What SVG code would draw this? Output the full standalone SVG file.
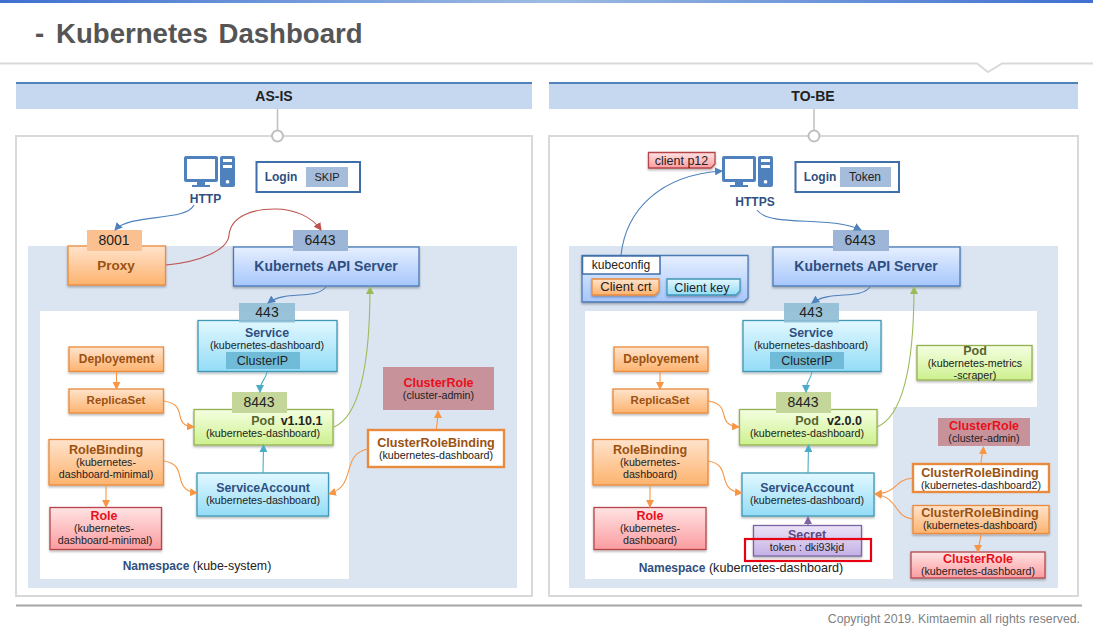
<svg xmlns="http://www.w3.org/2000/svg" width="1093" height="634" viewBox="0 0 1093 634">
<style>
text{font-family:"Liberation Sans",Arial,sans-serif;text-anchor:middle;font-size:10.7px;fill:#222}
.b{font-weight:700}
.navy{fill:#2f4f80;font-weight:700;font-size:12.4px}
.brown{fill:#9a5212;font-weight:700;font-size:12.6px}
.red{fill:#e8101c;font-weight:700;font-size:12.5px}
.olive{fill:#56652f;font-weight:700;font-size:12.5px}
.port{font-size:14px;fill:#222}
.title{font-size:27.6px;font-weight:700;fill:#555;text-anchor:start;word-spacing:3px}
.or{fill:url(#gO);stroke:#e98a3c;stroke-width:1.3;filter:url(#sh)}
.bl{fill:url(#gB);stroke:#4a7ab5;stroke-width:1.3;filter:url(#sh)}
.cy{fill:url(#gC);stroke:#3f97b5;stroke-width:1.3;filter:url(#sh)}
.gr{fill:url(#gG);stroke:#94b150;stroke-width:1.3;filter:url(#sh)}
.pk{fill:url(#gR);stroke:#b5454a;stroke-width:1.3;filter:url(#sh)}
.pu{fill:url(#gP);stroke:#7a64a2;stroke-width:1.3;filter:url(#sh)}
.wo{fill:#fff;stroke:#e98a3c;stroke-width:2.4}
.head{fill:#c6d8ef}
.topl{stroke:#4f81bd;stroke-width:2}
.frame{fill:#fff;stroke:#d9d9d9;stroke-width:2}
.zone{fill:#dbe4f1}
.conn{fill:none;stroke-width:1.1}
.cb{stroke:#4f81bd;marker-end:url(#aB)}
.cr{stroke:#c0504d;marker-end:url(#aR)}
.cg{stroke:#9bbb59;marker-end:url(#aG)}
.co{stroke:#f79646;marker-end:url(#aO)}
.cc{stroke:#4bacc6;marker-end:url(#aC)}
.cp{stroke:#8064a2;marker-end:url(#aP)}
.pin{stroke:#bfbfbf;stroke-width:1.5}
.pinc{fill:#fff;stroke:#bfbfbf;stroke-width:2}
.ic{fill:#4f81bd}
</style>
<defs>
<linearGradient id="top"><stop offset="0" stop-color="#3f70d0"/><stop offset=".5" stop-color="#9dbbe2"/><stop offset="1" stop-color="#3f70d0"/></linearGradient>
<linearGradient id="gO" x2="0" y2="1"><stop offset="0" stop-color="#ffe3cc"/><stop offset="1" stop-color="#fdb36e"/></linearGradient>
<linearGradient id="gB" x2="0" y2="1"><stop offset="0" stop-color="#e6efff"/><stop offset="1" stop-color="#a6c6fb"/></linearGradient>
<linearGradient id="gC" x2="0" y2="1"><stop offset="0" stop-color="#e2f8ff"/><stop offset="1" stop-color="#93dcf7"/></linearGradient>
<linearGradient id="gG" x2="0" y2="1"><stop offset="0" stop-color="#f5ffe2"/><stop offset="1" stop-color="#cdf08e"/></linearGradient>
<linearGradient id="gR" x2="0" y2="1"><stop offset="0" stop-color="#ffe3e3"/><stop offset="1" stop-color="#fb9ca0"/></linearGradient>
<linearGradient id="gP" x2="0" y2="1"><stop offset="0" stop-color="#ebe3f7"/><stop offset="1" stop-color="#c4b0e6"/></linearGradient>
<filter id="sh" x="-10%" y="-15%" width="120%" height="135%"><feDropShadow dx="0" dy="1.5" stdDeviation="1.2" flood-color="#000" flood-opacity=".3"/></filter>
<marker id="aB" markerUnits="userSpaceOnUse" markerWidth="9" markerHeight="8" refX="7" refY="4" orient="auto"><path d="M0 0L8 4L0 8z" fill="#4f81bd"/></marker>
<marker id="aR" markerUnits="userSpaceOnUse" markerWidth="9" markerHeight="8" refX="7" refY="4" orient="auto"><path d="M0 0L8 4L0 8z" fill="#c0504d"/></marker>
<marker id="aG" markerUnits="userSpaceOnUse" markerWidth="9" markerHeight="8" refX="7" refY="4" orient="auto"><path d="M0 0L8 4L0 8z" fill="#9bbb59"/></marker>
<marker id="aO" markerUnits="userSpaceOnUse" markerWidth="9" markerHeight="8" refX="7" refY="4" orient="auto"><path d="M0 0L8 4L0 8z" fill="#f79646"/></marker>
<marker id="aC" markerUnits="userSpaceOnUse" markerWidth="9" markerHeight="8" refX="7" refY="4" orient="auto"><path d="M0 0L8 4L0 8z" fill="#4bacc6"/></marker>
<marker id="aP" markerUnits="userSpaceOnUse" markerWidth="9" markerHeight="8" refX="7" refY="4" orient="auto"><path d="M0 0L8 4L0 8z" fill="#8064a2"/></marker>
<g id="pc">
<path class="ic" fill-rule="evenodd" d="M2 0H32A2 2 0 0 1 34 2V24A2 2 0 0 1 32 26H21V29H26V31H8V29H13V26H2A2 2 0 0 1 0 24V2A2 2 0 0 1 2 0ZM3 3V23H31V3Z"/>
<path class="ic" fill-rule="evenodd" d="M38 0H49A2 2 0 0 1 51 2V29A2 2 0 0 1 49 31H38A2 2 0 0 1 36 29V2A2 2 0 0 1 38 0ZM39 3V6H48V3ZM39 9V12H48V9ZM43.5 24A1.8 1.8 0 1 0 43.6 24Z"/>
</g>
</defs>

<rect width="1093" height="634" fill="#fff"/>
<rect width="1093" height="3" fill="url(#top)"/>
<text class="title" x="35" y="43">- <tspan x="56">Kubernetes Dashboard</tspan></text>
<path d="M0 63.5H977L988 72L1002 63.5H1093" fill="none" stroke="#d9d9d9" stroke-width="2"/>

<g id="as-is-panel">
<rect class="head" x="16" y="82" width="516" height="27"/>
<path class="topl" d="M16 83H532"/>
<text class="b" x="274" y="101" style="font-size:14px">AS-IS</text>
<rect class="frame" x="16" y="136" width="516" height="460"/>
<path class="pin" d="M277.5 109V131"/>
<circle class="pinc" cx="277.5" cy="136" r="5.5"/>
<rect class="zone" x="28" y="246" width="489" height="342"/>
<rect x="40" y="311" width="309" height="268" fill="#fff"/>
<text x="197" y="570" style="font-size:12.4px"><tspan class="navy" style="font-size:12px">Namespace</tspan> (kube-system)</text>
</g>

<g id="to-be-panel">
<rect class="head" x="549" y="82" width="529" height="27"/>
<path class="topl" d="M549 83H1078"/>
<text class="b" x="813" y="101" style="font-size:14px">TO-BE</text>
<rect class="frame" x="549" y="136" width="529" height="460"/>
<path class="pin" d="M814 109V131"/>
<circle class="pinc" cx="814" cy="136" r="5.5"/>
<rect class="zone" x="569" y="246" width="489" height="342"/>
<path d="M585 311H1037V407H893V579H585Z" fill="#fff"/>
<text x="741" y="572" style="font-size:12.6px"><tspan class="navy" style="font-size:12px">Namespace</tspan> (kubernetes-dashboard)</text>
</g>

<g id="l-pc"><use href="#pc" x="184" y="156"/><text x="205.500" y="203" style="font-size:12px;font-weight:700;fill:#2f4f80">HTTP</text></g>
<g id="l-login"><rect x="256.500" y="162" width="103.500" height="30" fill="#fff" stroke="#3f6fa8" stroke-width="2"/><rect x="306" y="167" width="42" height="20" fill="#a6bcdb"/><text class="navy" x="281" y="181" style="font-size:12px">Login</text><text x="327" y="181" style="font-size:11px">SKIP</text></g>
<g id="l-proxy"><rect class="or" x="68" y="246" width="97.500" height="39"/><rect x="87" y="230" width="55" height="21" fill="#fac090"/><text class="port" x="114" y="245">8001</text><text class="brown" x="116" y="270" style="font-size:13.5px">Proxy</text></g>
<g id="l-api"><rect class="bl" x="233.500" y="247" width="185.500" height="39"/><rect x="293" y="230" width="55" height="21" fill="#9db5d6"/><text class="port" x="320" y="245">6443</text><text class="navy" x="326" y="271" style="font-size:14px">Kubernets API Server</text></g>
<g id="l-service"><rect class="cy" x="198" y="320.500" width="139" height="51"/><rect x="239" y="303" width="56" height="19.500" fill="#8ebdd4" opacity=".9"/><text class="port" x="267" y="317">443</text><text class="navy" x="267" y="337">Service</text><text x="267" y="349">(kubernetes-dashboard)</text><rect x="226" y="352" width="74" height="17" fill="#70bcd8"/><text x="262.500" y="365" style="font-size:12.5px">ClusterIP</text></g>
<g id="l-deploy"><rect class="or" x="69" y="347" width="94.500" height="24.500"/><text class="brown" x="116.500" y="363" style="font-size:12px">Deployement</text></g>
<g id="l-rs"><rect class="or" x="69" y="389" width="94.500" height="24"/><text class="brown" x="116" y="404" style="font-size:11.500px">ReplicaSet</text></g>
<g id="l-pod"><rect class="gr" x="194" y="409.500" width="139" height="35.500"/><rect x="232" y="392" width="55" height="21" fill="#c5d69b"/><text class="port" x="259" y="407">8443</text><text class="olive" x="263" y="425">Pod</text><text class="b" x="301.500" y="425" style="font-size:12.5px">v1.10.1</text><text x="263" y="437">(kubernetes-dashboard)</text></g>
<g id="l-rb"><rect class="or" x="49" y="439.500" width="114.500" height="45.500"/><text class="brown" x="106" y="454">RoleBinding</text><text x="106" y="466">(kubernetes-</text><text x="106" y="478">dashboard-minimal)</text></g>
<g id="l-sa"><rect class="cy" x="197" y="473" width="131.500" height="43"/><text class="navy" x="263" y="492">ServiceAccount</text><text x="263" y="504">(kubernetes-dashboard)</text></g>
<g id="l-role"><rect class="pk" x="50" y="507.500" width="111.500" height="42"/><text class="red" x="104" y="520">Role</text><text x="104" y="532">(kubernetes-</text><text x="105" y="544">dashboard-minimal)</text></g>
<g id="l-cr"><rect x="383" y="367" width="111" height="43" fill="#c8929b"/><text class="red" x="438.500" y="387">ClusterRole</text><text x="438.500" y="399">(cluster-admin)</text></g>
<g id="l-crb"><rect class="wo" x="368" y="430" width="136" height="37"/><text class="brown" x="436" y="447">ClusterRoleBinding</text><text x="436" y="459">(kubernetes-dashboard)</text></g>

<g id="r-p12"><path class="pk" d="M648.500 152.500H715V164L711 168H648.500Z"/><text x="681.500" y="165" style="font-size:12.500px">client p12</text></g>
<g id="r-pc"><use href="#pc" x="722" y="156"/><text x="755" y="205.500" style="font-size:12px;font-weight:700;fill:#2f4f80">HTTPS</text></g>
<g id="r-login"><rect x="795.500" y="162" width="103.500" height="30" fill="#fff" stroke="#3f6fa8" stroke-width="2"/><rect x="840" y="167" width="51" height="20" fill="#a6bcdb"/><text class="navy" x="820" y="181" style="font-size:12px">Login</text><text x="865" y="181" style="font-size:12px">Token</text></g>
<g id="r-kubeconfig"><path class="bl" d="M582 255.500H748V298L744 302H582Z"/><rect x="582.500" y="256" width="77.500" height="18" fill="#fff" stroke="#3f6fa8" stroke-width="1.500"/><text x="621" y="269" style="font-size:12.100px">kubeconfig</text><path class="or" d="M592 279H659V291L655 295H592Z"/><text x="626" y="291" style="font-size:13px">Client crt</text><path class="cy" d="M667 279H740V291L736 295H667Z"/><text x="702" y="292" style="font-size:12.600px">Client key</text></g>
<g id="r-api"><rect class="bl" x="773" y="247" width="187" height="39"/><rect x="833" y="230" width="56" height="21" fill="#9db5d6"/><text class="port" x="860" y="245">6443</text><text class="navy" x="866" y="271" style="font-size:14px">Kubernets API Server</text></g>
<g id="r-service"><rect class="cy" x="743" y="320.500" width="138" height="51"/><rect x="784" y="303" width="55" height="19.500" fill="#8ebdd4" opacity=".9"/><text class="port" x="811" y="317">443</text><text class="navy" x="811" y="337">Service</text><text x="811" y="349">(kubernetes-dashboard)</text><rect x="770" y="352" width="74" height="17" fill="#70bcd8"/><text x="807" y="365" style="font-size:12.500px">ClusterIP</text></g>
<g id="r-deploy"><rect class="or" x="614" y="347" width="94" height="24.500"/><text class="brown" x="661" y="363" style="font-size:12px">Deployement</text></g>
<g id="r-rs"><rect class="or" x="613" y="389" width="95" height="24"/><text class="brown" x="660" y="404" style="font-size:11.500px">ReplicaSet</text></g>
<g id="r-pod"><rect class="gr" x="739.500" y="409.500" width="137.500" height="35.500"/><rect x="776" y="392" width="55" height="21" fill="#c5d69b"/><text class="port" x="803" y="407">8443</text><text class="olive" x="807" y="425">Pod</text><text class="b" x="844.500" y="425" style="font-size:12.5px">v2.0.0</text><text x="807" y="437">(kubernetes-dashboard)</text></g>
<g id="r-metrics"><rect class="gr" x="917" y="345.500" width="115" height="34.500"/><text class="olive" x="975" y="355">Pod</text><text x="975" y="367">(kubernetes-metrics</text><text x="975" y="379">-scraper)</text></g>
<g id="r-rb"><rect class="or" x="593" y="439.500" width="115" height="45.500"/><text class="brown" x="650" y="454">RoleBinding</text><text x="650" y="466">(kubernetes-</text><text x="650" y="478">dashboard)</text></g>
<g id="r-sa"><rect class="cy" x="742" y="473" width="132" height="43"/><text class="navy" x="807" y="492">ServiceAccount</text><text x="807" y="504">(kubernetes-dashboard)</text></g>
<g id="r-role"><rect class="pk" x="594" y="507.500" width="112" height="42"/><text class="red" x="650" y="520">Role</text><text x="650" y="532">(kubernetes-</text><text x="650" y="544">dashboard)</text></g>
<g id="r-secret"><rect class="pu" x="753.500" y="525.500" width="108" height="30.500"/><text x="807" y="539" style="font-size:12.500px;font-weight:700;fill:#5b4a85">Secret</text><text x="807" y="551">token : dki93kjd</text><rect x="745" y="539" width="126" height="22" fill="none" stroke="#e60012" stroke-width="2.200"/></g>
<g id="r-cr1"><rect x="938" y="418" width="92" height="28" fill="#c8929b"/><text class="red" x="984" y="430">ClusterRole</text><text x="984" y="442">(cluster-admin)</text></g>
<g id="r-crb2"><rect class="wo" x="913" y="464" width="136" height="28"/><text class="brown" x="980" y="477">ClusterRoleBinding</text><text x="981" y="489">(kubernetes-dashboard2)</text></g>
<g id="r-crb1"><rect class="or" x="913" y="505.500" width="136" height="28"/><text class="brown" x="980" y="517">ClusterRoleBinding</text><text x="980" y="529">(kubernetes-dashboard)</text></g>
<g id="r-cr2"><rect class="pk" x="911" y="552" width="134" height="26"/><text class="red" x="978" y="563">ClusterRole</text><text x="978" y="575">(kubernetes-dashboard)</text></g>

<g id="connectors" class="conn">
<path class="conn cb" d="M194 205C186 222 130 213 115 230"/>
<path class="conn cr" d="M166 265C200 262 228 250 229 235C231 215 255 209 275 209C295 209 312 217 321 230"/>
<path class="conn cb" d="M326 287C316 300 285 290 268 303"/>
<path class="conn cg" d="M334 427C355 418 370 380 370 287"/>
<path class="conn cc" d="M267 372C265 382 260 380 260 392"/>
<path class="conn co" d="M116.500 372V389"/>
<path class="conn co" d="M164 401C190 405 170 425 194 427"/>
<path class="conn co" d="M164 461C190 465 170 490 197 493"/>
<path class="conn co" d="M106 485V507"/>
<path class="conn cc" d="M263 473L263.500 445"/>
<path class="conn co" d="M367.500 449C340 455 358 485 329 494"/>
<path class="conn co" d="M436.500 429C437 422 438 418 438 411"/>
<path class="conn cb" d="M621 255C626 210 660 175 722 171"/>
<path class="conn cb" d="M757 210C770 228 830 215 861 230"/>
<path class="conn cb" d="M870 287C860 300 830 290 812 303"/>
<path class="conn cg" d="M877 427C898 418 914 380 914 287"/>
<path class="conn cc" d="M812 372C810 382 806 380 806 392"/>
<path class="conn co" d="M660 372V389"/>
<path class="conn co" d="M708 401C734 405 714 425 739 427"/>
<path class="conn co" d="M708 461C734 465 714 490 742 493"/>
<path class="conn co" d="M650 485V507"/>
<path class="conn cc" d="M808 473L808.500 445"/>
<path class="conn cp" d="M808 525V517"/>
<path class="conn co" d="M913 478C893 480 900 492 875 494"/>
<path class="conn co" d="M913 519C893 517 900 498 875 494"/>
<path class="conn co" d="M981 463C981 457 983 454 983.500 447"/>
<path class="conn co" d="M981 534C981 540 978 545 978 552"/>
</g>

<path d="M16 605.500H1082" stroke="#a6a6a6" stroke-width="2"/>
<text x="1080" y="623" style="text-anchor:end;font-size:12.300px;fill:#7f7f7f">Copyright 2019. Kimtaemin all rights reserved.</text>
</svg>
